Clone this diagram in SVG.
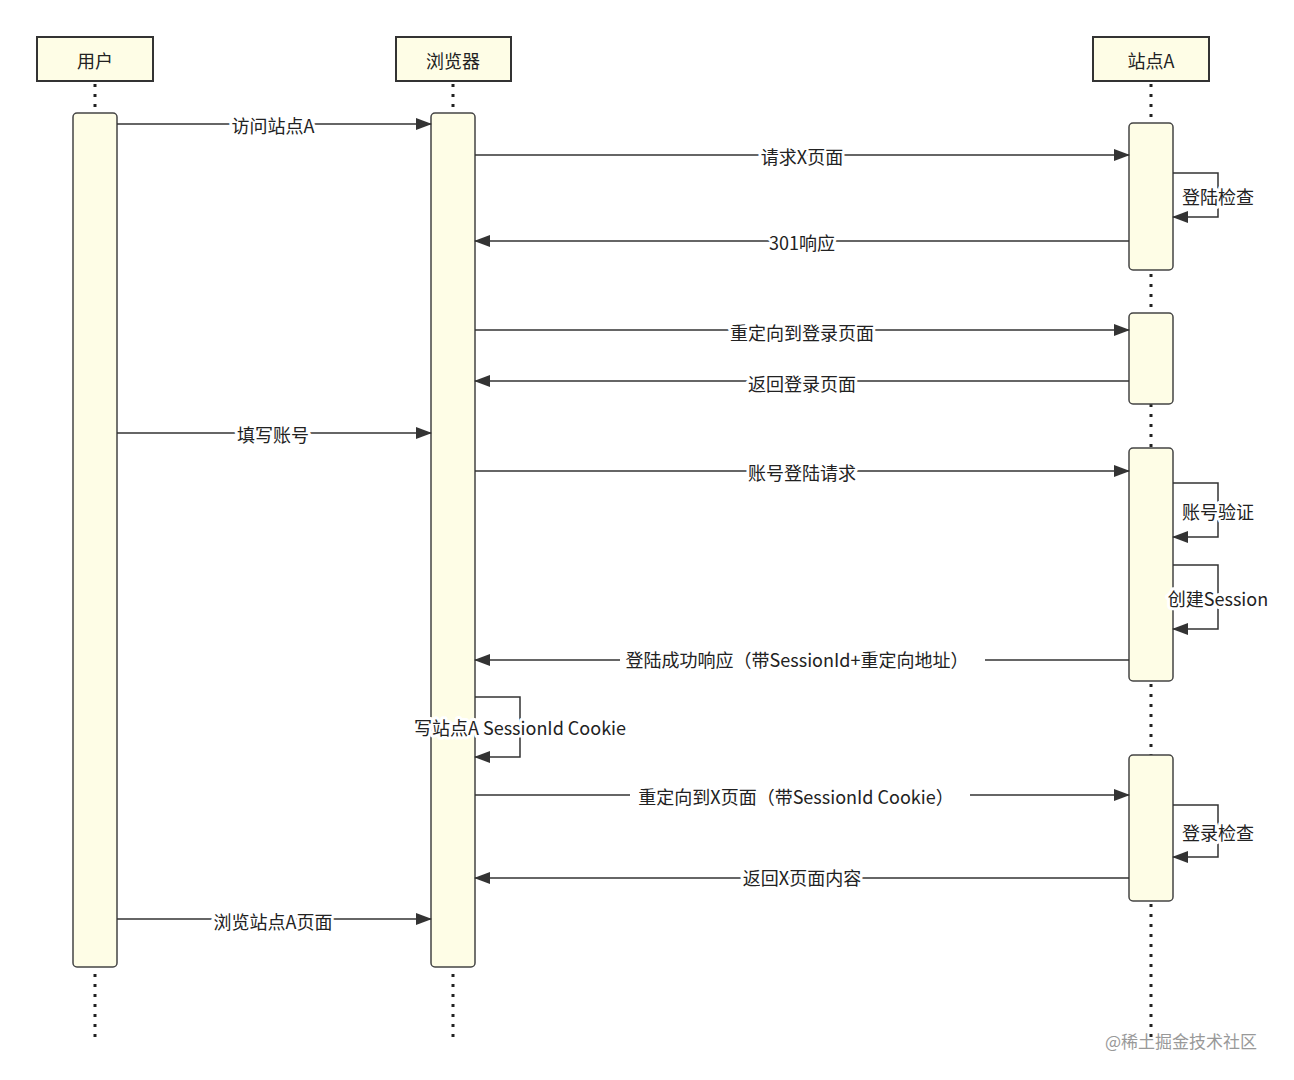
<svg xmlns="http://www.w3.org/2000/svg" width="1294" height="1080" viewBox="0 0 1294 1080">
<style>
text{font-family:"Noto Sans CJK SC","Liberation Sans",sans-serif;font-size:18px;fill:#222}
.hd{fill:#fefde6;stroke:#333;stroke-width:2}
.act{fill:#fefde6;stroke:#444;stroke-width:1.5}
.ll{stroke:#222;stroke-width:3;stroke-dasharray:3,7}
.m{stroke:#333;stroke-width:1.5;fill:none;marker-end:url(#a)}
.lb{text-anchor:middle;paint-order:stroke;stroke:#fff;stroke-width:6px;stroke-linejoin:round}
.c{text-anchor:middle}
.bg{fill:#fff}
</style>
<defs><marker id="a" markerWidth="16" markerHeight="12" refX="15" refY="6" orient="auto" markerUnits="userSpaceOnUse"><path d="M0,0 L16,6 L0,12 Z" fill="#333"/></marker></defs>
<rect width="1294" height="1080" fill="#fff"/>
<g id="lifelines">
<line class="ll" x1="95" y1="84" x2="95" y2="1042"/>
<line class="ll" x1="453" y1="84" x2="453" y2="1042"/>
<line class="ll" x1="1151" y1="84" x2="1151" y2="1042"/>
</g>
<g id="user"><rect class="hd" x="37" y="37" width="116" height="44"/><text class="c" x="95" y="68">用户</text>
<rect class="act" x="73" y="113" width="44" height="854" rx="4"/></g>
<g id="browser"><rect class="hd" x="396" y="37" width="115" height="44"/><text class="c" x="453" y="68">浏览器</text>
<rect class="act" x="431" y="113" width="44" height="854" rx="4"/></g>
<g id="siteA"><rect class="hd" x="1093" y="37" width="116" height="44"/><text class="c" x="1151" y="68">站点A</text>
<rect class="act" x="1129" y="123" width="44" height="147" rx="4"/>
<rect class="act" x="1129" y="313" width="44" height="91" rx="4"/>
<rect class="act" x="1129" y="448" width="44" height="233" rx="4"/>
<rect class="act" x="1129" y="755" width="44" height="146" rx="4"/></g>
<g id="connectors">
<path class="m" d="M117,124 H431"/><text class="lb" x="273" y="133">访问站点A</text>
<path class="m" d="M475,155 H1129"/><text class="lb" x="802" y="164">请求X页面</text>
<path class="m" d="M1173,173 H1218 V217 H1173"/><text class="lb" x="1218" y="204">登陆检查</text>
<path class="m" d="M1129,241 H475"/><text class="lb" x="802" y="250">301响应</text>
<path class="m" d="M475,330 H1129"/><text class="lb" x="802" y="340">重定向到登录页面</text>
<path class="m" d="M1129,381 H475"/><text class="lb" x="802" y="391">返回登录页面</text>
<path class="m" d="M117,433 H431"/><text class="lb" x="273" y="442">填写账号</text>
<path class="m" d="M475,471 H1129"/><text class="lb" x="802" y="480">账号登陆请求</text>
<path class="m" d="M1173,483 H1218 V537 H1173"/><text class="lb" x="1218" y="519">账号验证</text>
<path class="m" d="M1173,565 H1218 V629 H1173"/><text class="lb" x="1218" y="606">创建Session</text>
<path class="m" d="M1129,660 H475"/><rect class="bg" x="620" y="648" width="365" height="24"/><text class="lb" x="797" y="667">登陆成功响应（带SessionId+重定向地址）</text>
<path class="m" d="M475,697 H520 V757 H475"/><text class="lb" x="520" y="735">写站点A SessionId Cookie</text>
<path class="m" d="M475,795 H1129"/><rect class="bg" x="630" y="783" width="340" height="24"/><text class="lb" x="796" y="804">重定向到X页面（带SessionId Cookie）</text>
<path class="m" d="M1173,805 H1218 V857 H1173"/><text class="lb" x="1218" y="840">登录检查</text>
<path class="m" d="M1129,878 H475"/><text class="lb" x="802" y="885">返回X页面内容</text>
<path class="m" d="M117,919 H431"/><text class="lb" x="273" y="929">浏览站点A页面</text>
</g>
<text x="1105" y="1048" style="fill:#999;font-size:17px">@稀土掘金技术社区</text>
</svg>
